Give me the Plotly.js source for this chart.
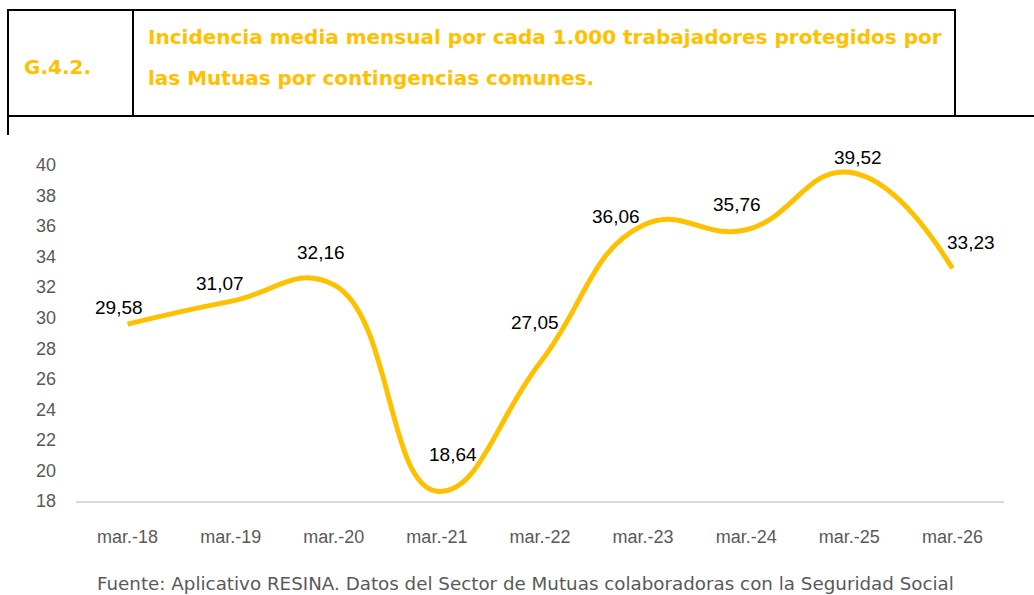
<!DOCTYPE html>
<html>
<head>
<meta charset="utf-8">
<script src="https://cdn.plot.ly/plotly-3.0.1.min.js"></script>
<style>html,body{margin:0;padding:0;background:#fff;}#chart{width:1034px;height:595px;}</style>
</head>
<body>
<div id="chart"></div>
<script>
const categories = ["mar.-18","mar.-19","mar.-20","mar.-21","mar.-22","mar.-23","mar.-24","mar.-25","mar.-26"];
const values = [29.58, 31.07, 32.16, 18.64, 27.05, 36.06, 35.76, 39.52, 33.23];
const yTicks = [18,20,22,24,26,28,30,32,34,36,38,40];
const chartCode = "G.4.2.";
const titleLines = ["Incidencia media mensual por cada 1.000 trabajadores protegidos por", "las Mutuas por contingencias comunes."];
const sourceText = "Fuente: Aplicativo RESINA. Datos del Sector de Mutuas colaboradoras con la Seguridad Social";

// label placement offsets (px), styling only
const labelDx = [-9, -11, -13, 16, -5, -27, -9, 9, 19];
const labelDy = [17, 18, 32, 37, 40, 9, 25, 15, 26];

const W = 1034, H = 595;
const L = 76, R = 30, T = 165, B = 94;
const PW = W - L - R, PH = H - T - B;
const px = x => (x - L) / PW;
const py = y => (H - B - y) / PH;

const fmt = v => v.toFixed(2).replace('.', ',');

const trace = {
  x: categories, y: values, type: 'scatter', mode: 'lines',
  line: {color: '#FFC000', width: 5, shape: 'spline', smoothing: 1.3},
  hoverinfo: 'skip', showlegend: false, cliponaxis: false
};

const annotations = categories.map((c, i) => ({
  x: c, y: values[i], xref: 'x', yref: 'y', text: fmt(values[i]), showarrow: false,
  xshift: labelDx[i], yshift: labelDy[i],
  font: {family: 'Liberation Sans, Arial, sans-serif', size: 19, color: '#000000'}
}));

const hdrFont = {family: 'DejaVu Sans, sans-serif', size: 20, color: '#FFC000', weight: 'bold'};
annotations.push({xref: 'paper', yref: 'paper', x: px(22), y: py(67), xanchor: 'left', yanchor: 'middle',
  text: '<b>' + chartCode + '</b>', showarrow: false, font: hdrFont});
annotations.push({xref: 'paper', yref: 'paper', x: px(146), y: py(37), xanchor: 'left', yanchor: 'middle',
  text: '<b>' + titleLines[0] + '</b>', showarrow: false, font: hdrFont});
annotations.push({xref: 'paper', yref: 'paper', x: px(146), y: py(78), xanchor: 'left', yanchor: 'middle',
  text: '<b>' + titleLines[1] + '</b>', showarrow: false, font: hdrFont});
annotations.push({xref: 'paper', yref: 'paper', x: px(525), y: py(583), xanchor: 'center', yanchor: 'middle',
  text: sourceText, showarrow: false,
  font: {family: 'DejaVu Sans, sans-serif', size: 18.3, color: '#595959'}});

const ln = (x0, y0, x1, y1) => ({type: 'line', xref: 'paper', yref: 'paper',
  x0: px(x0), y0: py(y0), x1: px(x1), y1: py(y1), line: {color: '#000000', width: 2}});
const shapes = [
  ln(7, 10, 955, 10),
  ln(8, 9, 8, 135),
  ln(133, 10, 133, 116),
  ln(955, 9, 955, 116),
  ln(7, 116, 1034, 116)
];

const layout = {
  width: W, height: H,
  margin: {l: L, r: R, t: T, b: B, pad: 0},
  paper_bgcolor: '#ffffff', plot_bgcolor: '#ffffff',
  xaxis: {
    type: 'category', range: [-0.5, 8.5], showgrid: false, zeroline: false,
    showline: true, linecolor: '#D9D9D9', linewidth: 2,
    ticks: '', ticklabelstandoff: 18,
    tickfont: {family: 'Liberation Sans, Arial, sans-serif', size: 18, color: '#595959'},
    fixedrange: true
  },
  yaxis: {
    range: [18, 40], tickvals: yTicks, ticktext: yTicks.map(String),
    showgrid: false, zeroline: false, showline: false, ticks: '', ticklabelstandoff: 19,
    tickfont: {family: 'Liberation Sans, Arial, sans-serif', size: 18, color: '#595959'},
    fixedrange: true
  },
  annotations: annotations,
  shapes: shapes,
  showlegend: false
};

Plotly.newPlot('chart', [trace], layout, {displayModeBar: false, staticPlot: true});
</script>
</body>
</html>
